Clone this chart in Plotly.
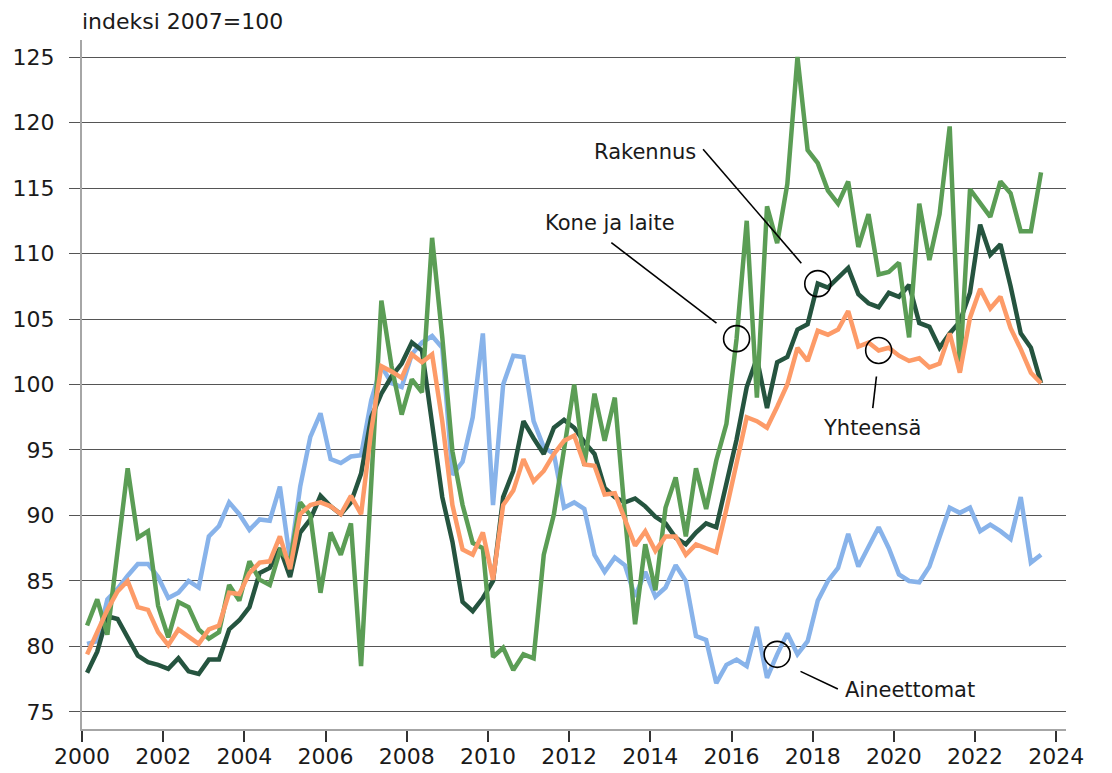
import pandas as pd
import plotly.graph_objects as go

# Quarterly periods 2000Q1 .. 2023Q3
quarters = pd.period_range("2000Q1", "2023Q3", freq="Q")

kone_ja_laite = [
    81.6, 83.6, 80.9, 87.3, 93.6, 88.3, 88.8, 83.1, 80.7, 83.4, 83.0, 81.3, 80.6, 81.1, 84.7, 83.5,
    86.5, 85.1, 84.7, 87.3, 86.5, 91.0, 90.0, 84.1, 88.7, 87.0, 89.4, 78.5, 92.5, 106.4, 101.4, 97.7,
    100.4, 99.4, 111.2, 103.6, 94.9, 90.8, 87.9, 87.5, 79.2, 79.9, 78.2, 79.4, 79.1, 87.0, 90.1, 94.9,
    100.0, 93.8, 99.3, 95.7, 99.0, 90.0, 81.7, 87.8, 84.3, 90.6, 92.9, 88.4, 93.6, 90.5, 94.2, 97.0,
    103.5, 112.5, 99.0, 113.6, 110.8, 115.3, 125.0, 117.9, 116.9, 114.8, 113.8, 115.5, 110.5, 113.0, 108.4, 108.6,
    109.3, 103.6, 113.8, 109.5, 113.0, 119.7, 101.0, 114.9, 113.9, 112.8, 115.5, 114.6, 111.7, 111.7, 116.2,
]

rakennus = [
    78.0, 79.6, 82.3, 82.1, 80.7, 79.3, 78.8, 78.6, 78.3, 79.1, 78.1, 77.9, 79.0, 79.0, 81.3, 82.0,
    83.0, 85.6, 86.0, 87.5, 85.3, 88.7, 89.7, 91.5, 90.7, 90.1, 91.0, 93.2, 97.5, 99.3, 100.6, 101.6,
    103.2, 102.6, 97.0, 91.4, 88.0, 83.4, 82.7, 83.7, 85.0, 91.4, 93.4, 97.2, 95.9, 94.7, 96.7, 97.3,
    96.7, 95.6, 94.7, 92.1, 91.4, 91.0, 91.3, 90.7, 89.9, 89.4, 88.3, 87.8, 88.7, 89.4, 89.1, 92.6,
    95.8, 99.8, 102.0, 98.2, 101.7, 102.1, 104.2, 104.6, 107.7, 107.4, 108.2, 108.9, 106.9, 106.2, 105.9, 107.0,
    106.7, 107.6, 104.7, 104.4, 102.8, 103.9, 104.8, 107.0, 112.2, 109.9, 110.7, 107.5, 103.9, 102.8, 100.1,
]

yhteensa = [
    79.4, 81.1, 82.8, 84.2, 85.0, 83.0, 82.8, 81.1, 80.1, 81.3, 80.8, 80.2, 81.3, 81.6, 84.1, 84.0,
    85.6, 86.4, 86.5, 88.4, 85.9, 90.1, 90.8, 91.0, 90.7, 90.1, 91.5, 90.1, 96.5, 101.4, 101.0, 100.5,
    102.3, 101.7, 102.3, 97.2, 90.8, 87.4, 87.0, 88.7, 85.1, 90.8, 91.9, 94.3, 92.6, 93.4, 94.7, 95.7,
    96.1, 93.9, 93.8, 91.6, 91.7, 89.6, 87.7, 88.8, 87.3, 88.4, 88.4, 87.0, 87.8, 87.5, 87.2, 90.5,
    94.0, 97.5, 97.2, 96.7, 98.3, 100.0, 102.8, 101.8, 104.1, 103.8, 104.2, 105.6, 102.9, 103.2, 102.6, 102.8,
    102.2, 101.8, 102.0, 101.3, 101.6, 103.9, 100.9, 105.1, 107.3, 105.8, 106.7, 104.3, 102.7, 100.9, 100.1,
]

aineettomat = [
    80.2, 80.4, 83.6, 84.4, 85.4, 86.3, 86.3, 85.3, 83.7, 84.1, 85.0, 84.5, 88.4, 89.2, 91.0, 90.1,
    88.9, 89.7, 89.6, 92.2, 86.6, 92.2, 96.0, 97.8, 94.3, 94.0, 94.5, 94.6, 98.8, 101.4, 100.1, 99.8,
    102.3, 103.2, 103.7, 102.8, 93.1, 94.1, 97.5, 103.9, 90.8, 100.0, 102.2, 102.1, 97.2, 95.2, 94.7, 90.6,
    91.0, 90.5, 87.0, 85.7, 86.8, 86.2, 83.8, 85.7, 83.8, 84.5, 86.2, 85.0, 80.8, 80.5, 77.2, 78.6,
    79.0, 78.5, 81.5, 77.6, 79.4, 81.0, 79.4, 80.4, 83.5, 85.0, 86.0, 88.6, 86.1, 87.6, 89.1, 87.5,
    85.5, 85.0, 84.9, 86.1, 88.4, 90.6, 90.2, 90.6, 88.8, 89.3, 88.8, 88.2, 91.4, 86.4, 87.0,
]

series_names = ["Aineettomat", "Rakennus", "Kone ja laite", "Yhteensä"]
series_values = [aineettomat, rakennus, kone_ja_laite, yhteensa]
series_colors = ["#88b3ea", "#25543f", "#5b9d55", "#fd9b68"]

tick_years = list(range(2000, 2025, 2))
y_ticks = list(range(75, 126, 5))

# callouts: series, highlighted quarter, text position, leader line
callouts = [
    ("Kone ja laite", "2016Q1", (2013.0, 112.3), ((2013.04, 110.83), (2015.63, 104.68))),
    ("Rakennus", "2018Q1", (2013.86, 117.75), ((2015.30, 117.96), (2017.72, 109.26))),
    ("Yhteensä", "2019Q3", (2019.46, 96.69), ((2019.57, 100.61), (2019.48, 98.20))),
    ("Aineettomat", "2017Q1", (2020.39, 76.70), ((2017.70, 78.10), (2018.62, 76.75))),
]

x = [p.year + (p.quarter - 1) / 4 + 0.125 for p in quarters]

FONT = "DejaVu Sans"
fig = go.Figure()
for name, vals, col in zip(series_names, series_values, series_colors):
    fig.add_trace(go.Scatter(x=x, y=vals, mode="lines", name=name,
                             line=dict(color=col, width=4.5), showlegend=False))

lookup = dict(zip(series_names, series_values))
qidx = {str(p): i for i, p in enumerate(quarters)}
for name, q, (tx, ty), ((lx0, ly0), (lx1, ly1)) in callouts:
    i = qidx[q]
    fig.add_shape(type="circle", xref="x", yref="y", xsizemode="pixel", ysizemode="pixel",
                  xanchor=x[i], yanchor=lookup[name][i], x0=-13, x1=13, y0=-13, y1=13,
                  line=dict(color="black", width=1.6))
    fig.add_shape(type="line", xref="x", yref="y", x0=lx0, y0=ly0, x1=lx1, y1=ly1,
                  line=dict(color="black", width=1.6))
    fig.add_annotation(x=tx, y=ty, xref="x", yref="y", text=name, showarrow=False,
                       font=dict(family=FONT, size=21, color="#1a1a1a"),
                       xanchor="center", yanchor="middle")

fig.add_annotation(x=0, y=1, xref="paper", yref="paper", text="indeksi 2007=100",
                   showarrow=False, xanchor="left", yanchor="bottom", yshift=4, xshift=-2,
                   font=dict(family=FONT, size=22, color="#1a1a1a"))

fig.update_layout(
    width=1104, height=765,
    margin=dict(l=74, r=46, t=32, b=44, autoexpand=False),
    paper_bgcolor="white", plot_bgcolor="white",
    font=dict(family=FONT, size=22, color="#1a1a1a"),
    xaxis=dict(range=[2000, 2024.24], tickvals=tick_years, ticktext=[str(t) for t in tick_years],
               showgrid=False, zeroline=False, showline=True, linecolor="#a6a6a6", linewidth=2,
               ticks="outside", ticklen=11, tickwidth=1.5, tickcolor="#333333", automargin=False,
               ticklabelstandoff=-4, tickfont=dict(family=FONT, size=22, color="#1a1a1a")),
    yaxis=dict(range=[73.7, 126.3], tickvals=y_ticks, showgrid=True, gridcolor="#555555",
               gridwidth=1, zeroline=False, showline=True, linecolor="#a6a6a6", linewidth=2,
               ticks="outside", ticklen=11, tickwidth=1, tickcolor="#555555", automargin=False,
               ticklabelstandoff=10, tickfont=dict(family=FONT, size=22, color="#1a1a1a")),
)

fig.write_html("out.html")
